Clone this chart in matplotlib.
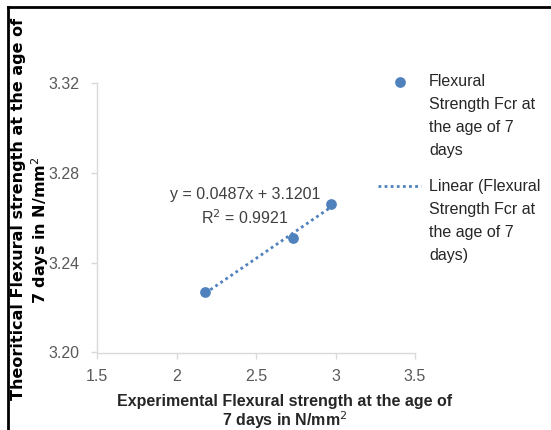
import matplotlib
matplotlib.use("Agg")
import matplotlib.pyplot as plt
import numpy as np
from matplotlib import font_manager as fm
from matplotlib.lines import Line2D

names = {f.name for f in fm.fontManager.ttflist}
reg_font = "Liberation Sans Narrow" if "Liberation Sans Narrow" in names else "Liberation Sans"

# data
exp_strength = [2.18, 2.73, 2.97]
theo_strength = [3.227, 3.251, 3.266]
x_ticks = [1.5, 2, 2.5, 3, 3.5]
y_ticks = [3.20, 3.24, 3.28, 3.32]
series_label = ["Flexural", "Strength Fcr at", "the age of 7", "days"]
trend_label = ["Linear (Flexural", "Strength Fcr at", "the age of 7", "days)"]
eq_text = "y = 0.0487x + 3.1201\nR$^2$ = 0.9921"

W, H = 551, 430
fig = plt.figure(figsize=(W / 100, H / 100), dpi=100)
ax = fig.add_axes([97.3 / W, 1 - 352.5 / H, (415 - 97.3) / W, (352.5 - 82.7) / H])

blue = "#4f81bd"
gray = "#595959"
sc = ax.scatter(exp_strength, theo_strength, s=45, color=blue, zorder=3)
coef = np.polyfit(exp_strength, theo_strength, 1)
xs = np.array([min(exp_strength), max(exp_strength)])
ln, = ax.plot(xs, np.polyval(coef, xs), linestyle=(0, (1, 1.2)), color=blue, lw=2)

ax.set_xlim(1.5, 3.5)
ax.set_ylim(3.20, 3.32)
ax.set_xticks(x_ticks)
ax.set_xticklabels([f"{v:g}" for v in x_ticks])
ax.set_yticks(y_ticks)
ax.set_yticklabels([f"{v:.2f}" for v in y_ticks])
for s in ["top", "right"]:
    ax.spines[s].set_visible(False)
for s in ["left", "bottom"]:
    ax.spines[s].set_color("#d9d9d9")
    ax.spines[s].set_linewidth(1)
ax.tick_params(axis="both", color="#d9d9d9", length=4, width=1, labelcolor=gray,
               labelsize=11.5)
ax.tick_params(axis="y", pad=9)
ax.tick_params(axis="x", pad=8)
for lab in ax.get_xticklabels() + ax.get_yticklabels():
    lab.set_fontfamily(reg_font)

ax.text(245 / W, 1 - 207 / H, eq_text, transform=fig.transFigure, ha="center", va="center",
        fontsize=11.5, family=reg_font, color="#404040", linespacing=1.45)


def blank():
    return Line2D([], [], color="none")


def make_legend(handle, lines, top_px):
    handles = [handle] + [blank() for _ in lines[1:]]
    leg = ax.legend(handles, lines, loc="upper left", bbox_to_anchor=(378 / W, 1 - top_px / H),
                    bbox_transform=fig.transFigure, frameon=False,
                    prop={"family": reg_font, "size": 11.5}, handlelength=2.7,
                    handletextpad=0.5, labelspacing=0.5, borderpad=0, borderaxespad=0,
                    scatterpoints=1)
    for t in leg.get_texts():
        t.set_color("#262626")
    return leg


leg1 = make_legend(sc, series_label, 74)
ax.add_artist(leg1)
leg2 = make_legend(ln, trend_label, 179.5)

# axis titles
fig.text(285 / W, 1 - 401.7 / H, "Experimental Flexural strength at the age of", ha="center", va="center",
         fontsize=11.5, fontweight="bold", family=reg_font, color="#262626")
fig.text(285 / W, 1 - 420 / H, "7 days in N/mm$^2$", ha="center", va="center",
         fontsize=11.5, fontweight="bold", family=reg_font, color="#262626")
fig.text(19 / W, 1 - 209 / H, "Theoritical Flexural strength at the age of", ha="center", va="center",
         rotation=90, fontsize=11.5, fontweight="bold", family="DejaVu Sans", color="#000000")
fig.text(40 / W, 1 - 230 / H, "7 days in N/mm$^2$", ha="center", va="center",
         rotation=90, fontsize=11.5, fontweight="bold", family="DejaVu Sans", color="#000000")

# black frame
fig.add_artist(Line2D([7.5 / W, 7.5 / W], [0, 1 - 7.3 / H], transform=fig.transFigure, color="black", lw=2.0, solid_capstyle="projecting"))
fig.add_artist(Line2D([7.5 / W, 1], [1 - 7.3 / H, 1 - 7.3 / H], transform=fig.transFigure, color="black", lw=2.0, solid_capstyle="projecting"))

fig.savefig("out.png", dpi=100)
